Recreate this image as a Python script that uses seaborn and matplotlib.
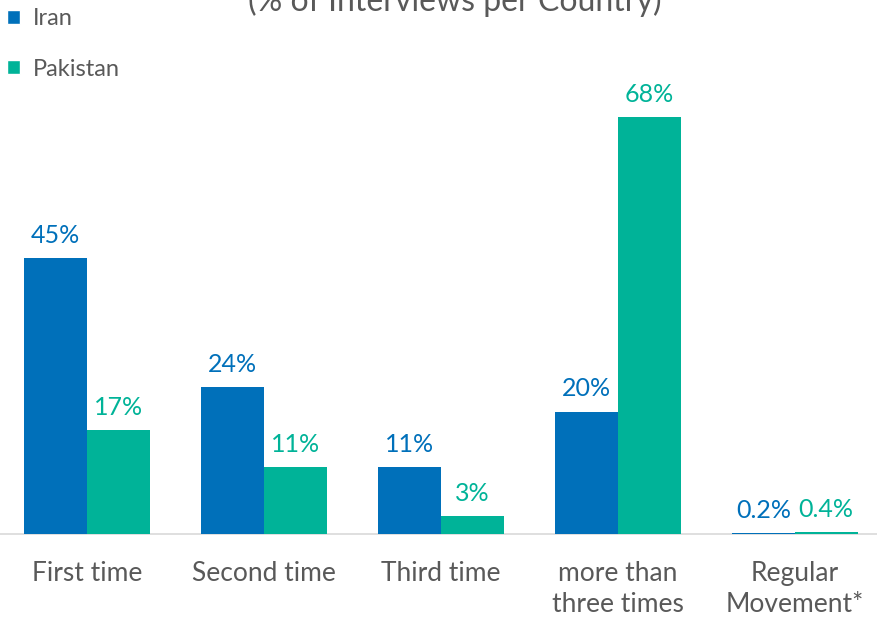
import pandas as pd
import matplotlib.pyplot as plt
import seaborn as sns
from matplotlib.patches import Patch

# chart values
categories = ['First time', 'Second time', 'Third time', 'more than\nthree times', 'Regular\nMovement*']
iran = [45, 24, 11, 20, 0.2]
pakistan = [17, 11, 3, 68, 0.4]
series = ['Iran', 'Pakistan']
colors = ['#0070BA', '#00B398']

data = pd.DataFrame({
    'category': categories * 2,
    'value': iran + pakistan,
    'country': ['Iran'] * len(categories) + ['Pakistan'] * len(categories),
})

sns.set_style('white')
plt.rcParams['font.family'] = ['Lato', 'DejaVu Sans']

fig = plt.figure(figsize=(8.78, 6.19), dpi=100)
ax = fig.add_axes([0, 0.137, 1, 0.863])

sns.barplot(data=data, x='category', y='value', hue='country', order=categories,
            hue_order=series, palette=colors, saturation=1, width=0.71, gap=0,
            linewidth=0, ax=ax, legend=False)

ax.set_xlim(-0.49, 4.47)
ax.set_ylim(0, 87.1)

# value labels in series colour
for container, vals, col in zip(ax.containers, [iran, pakistan], colors):
    ax.bar_label(container, labels=[f'{v:g}%' for v in vals], padding=8,
                 color=col, fontsize=18)

ax.set_xlabel('')
ax.set_ylabel('')
ax.set_yticks([])
ax.tick_params(axis='x', length=0, pad=19, labelsize=19, labelcolor='#595959')
for lbl in ax.get_xticklabels():
    lbl.set_linespacing(1.3)
for side in ['top', 'left', 'right']:
    ax.spines[side].set_visible(False)
ax.spines['bottom'].set_color('#D9D9D9')
ax.spines['bottom'].set_linewidth(1.2)
ax.spines['bottom'].set_zorder(0)

# legend top-left
handles = [Patch(facecolor=c, label=s) for c, s in zip(colors, series)]
leg = fig.legend(handles=handles, loc='upper left', bbox_to_anchor=(0.008, 0.987),
                 frameon=False, fontsize=17, handlelength=0.55, handleheight=0.55,
                 handletextpad=0.55, labelspacing=1.25, borderaxespad=0,
                 borderpad=0)
for t in leg.get_texts():
    t.set_color('#595959')

# title (cut at top edge as in the original)
fig.text(0.518, 0.998, '(% of Interviews per Country)', ha='center', va='center',
         fontsize=23, color='#595959')

fig.savefig('out.png', dpi=100)
